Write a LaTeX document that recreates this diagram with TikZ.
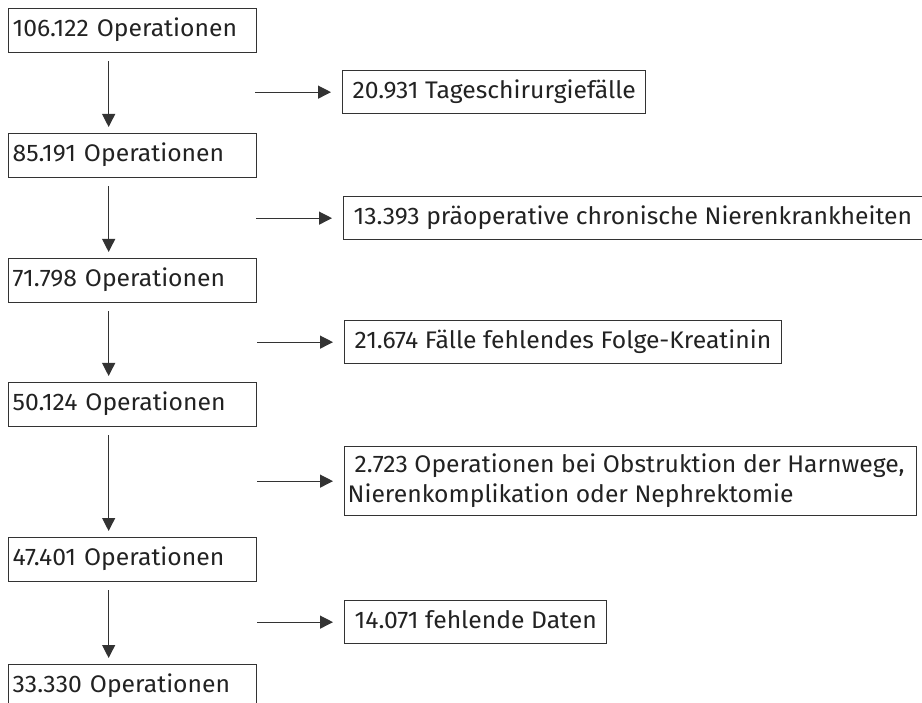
\documentclass[tikz,border=0pt]{standalone}
\usepackage{fontspec}
\setmainfont{Fira Sans}
\newfontfamily\boxfont[FakeStretch=1.03]{Fira Sans}
\usetikzlibrary{arrows.meta}
\definecolor{linec}{HTML}{333333}
\definecolor{txt}{HTML}{222222}
\tikzset{
  x=1pt, y=-1pt,
  box/.style={draw=linec, line width=1.3pt, anchor=north west, inner xsep=4pt,
    inner ysep=0pt, text height=17pt, text depth=5pt, text=txt,
    font=\boxfont\fontsize{24}{30}\selectfont, align=left},
  leftbox/.style={box, minimum height=44pt, text width=240pt},
  sidebox/.style={box, inner xsep=10pt, minimum height=43pt},
  arr/.style={draw=linec, line width=1.2pt, -{Triangle[length=13pt,width=13pt]}}
}
\begin{document}
\begin{tikzpicture}
\useasboundingbox (0,0) rectangle (922,703);
\clip (0,0) rectangle (922,703);
% left column
\node[leftbox] (n1) at (8,8)   {106.122 Operationen};
\node[leftbox] (n2) at (8,133) {85.191 Operationen};
\node[leftbox] (n3) at (8,258) {71.798 Operationen};
\node[leftbox] (n4) at (8,382) {50.124 Operationen};
\node[leftbox] (n5) at (8,537) {47.401 Operationen};
\node[leftbox] (n6) at (8,664) {33.330 Operationen};
% side boxes
\node[sidebox] (s1) at (342,70)  {20.931 Tageschirurgiefälle};
\node[sidebox] (s2) at (343,196) {13.393 präoperative chronische Nierenkrankheiten\hspace*{24pt}};
\node[sidebox] (s3) at (344,320) {21.674 Fälle fehlendes Folge-Kreatinin};
\node[sidebox, inner xsep=3pt, minimum height=69pt, text height=, text depth=] (s4) at (344,446)
  {\hspace*{7pt}2.723 Operationen bei Obstruktion der Harnwege,\hspace*{9pt}\\Nierenkomplikation oder Nephrektomie};
\node[sidebox] (s5) at (344,600) {14.071 fehlende Daten};
% vertical arrows
\foreach \a/\b in {n1/n2, n2/n3, n3/n4, n4/n5, n5/n6}
  \draw[arr] ([xshift=-24pt,yshift=-8pt]\a.south) -- ([xshift=-24pt,yshift=6pt]\b.north);
% horizontal arrows
\foreach \s in {s1,s2,s3,s4,s5}
  \draw[arr] ([xshift=-87pt]\s.west) -- ([xshift=-11pt]\s.west);
\end{tikzpicture}
\end{document}
